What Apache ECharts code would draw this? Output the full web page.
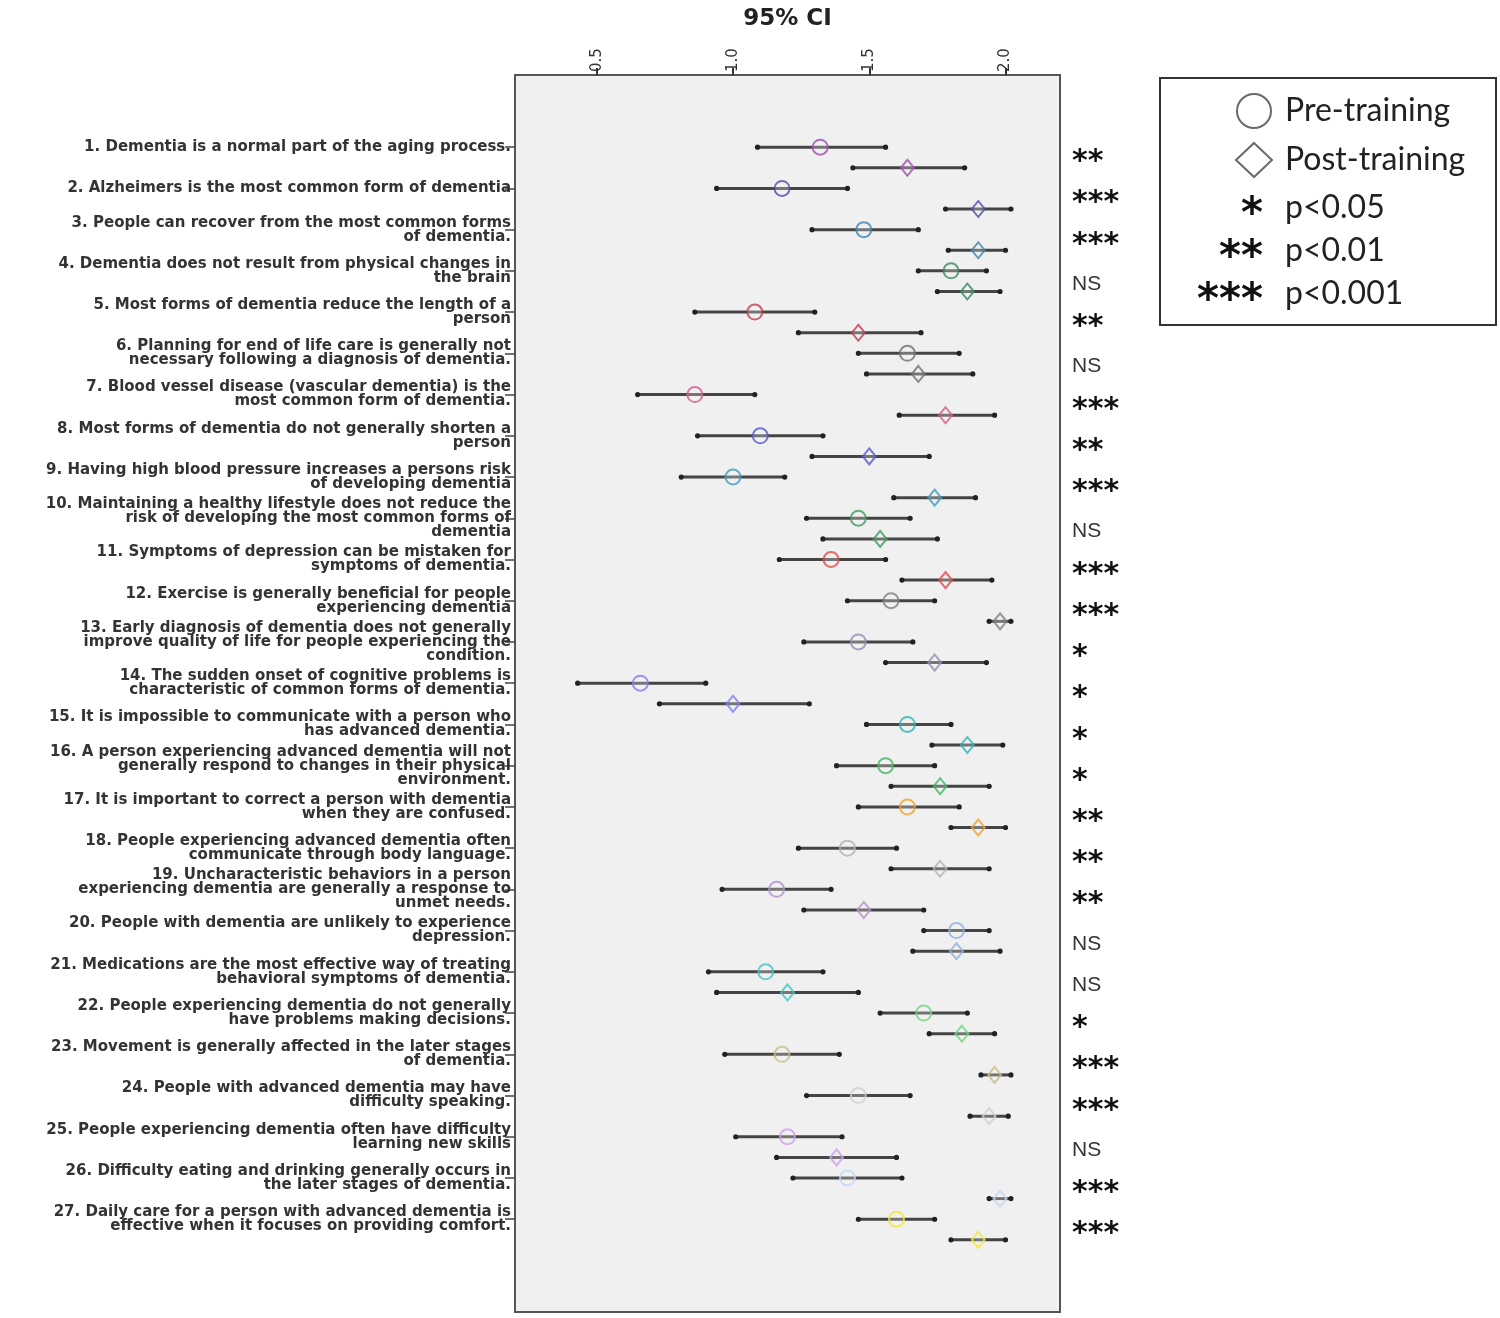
<!DOCTYPE html>
<html>
<head>
<meta charset="utf-8">
<title>95% CI</title>
<script src="https://cdn.jsdelivr.net/npm/echarts@6/dist/echarts.min.js"></script>
<style>
  html, body { margin: 0; background: #fff; }
  #chart { width: 1500px; height: 1318px; }
</style>
</head>
<body>
<div id="chart"></div>
<script>
// Knowledge items, pre/post training means with 95% CI, and significance.
const items = [
  "1. Dementia is a normal part of the aging process.",
  "2. Alzheimers is the most common form of dementia",
  "3. People can recover from the most common forms\nof dementia.",
  "4. Dementia does not result from physical changes in\nthe brain",
  "5. Most forms of dementia reduce the length of a\nperson",
  "6. Planning for end of life care is generally not\nnecessary following a diagnosis of dementia.",
  "7. Blood vessel disease (vascular dementia) is the\nmost common form of dementia.",
  "8. Most forms of dementia do not generally shorten a\nperson",
  "9. Having high blood pressure increases a persons risk\nof developing dementia",
  "10. Maintaining a healthy lifestyle does not reduce the\nrisk of developing the most common forms of\ndementia",
  "11. Symptoms of depression can be mistaken for\nsymptoms of dementia.",
  "12. Exercise is generally beneficial for people\nexperiencing dementia",
  "13. Early diagnosis of dementia does not generally\nimprove quality of life for people experiencing the\ncondition.",
  "14. The sudden onset of cognitive problems is\ncharacteristic of common forms of dementia.",
  "15. It is impossible to communicate with a person who\nhas advanced dementia.",
  "16. A person experiencing advanced dementia will not\ngenerally respond to changes in their physical\nenvironment.",
  "17. It is important to correct a person with dementia\nwhen they are confused.",
  "18. People experiencing advanced dementia often\ncommunicate through body language.",
  "19. Uncharacteristic behaviors in a person\nexperiencing dementia are generally a response to\nunmet needs.",
  "20. People with dementia are unlikely to experience\ndepression.",
  "21. Medications are the most effective way of treating\nbehavioral symptoms of dementia.",
  "22. People experiencing dementia do not generally\nhave problems making decisions.",
  "23. Movement is generally affected in the later stages\nof dementia.",
  "24. People with advanced dementia may have\ndifficulty speaking.",
  "25. People experiencing dementia often have difficulty\nlearning new skills",
  "26. Difficulty eating and drinking generally occurs in\nthe later stages of dementia.",
  "27. Daily care for a person with advanced dementia is\neffective when it focuses on providing comfort.",
]

const preMean  = [1.32, 1.18, 1.48, 1.80, 1.08, 1.64, 0.86, 1.10, 1.00, 1.46, 1.36, 1.58, 1.46, 0.66, 1.64, 1.56, 1.64, 1.42, 1.16, 1.82, 1.12, 1.70, 1.18, 1.46, 1.20, 1.42, 1.60]
const preLow   = [1.09, 0.94, 1.29, 1.68, 0.86, 1.46, 0.65, 0.87, 0.81, 1.27, 1.17, 1.42, 1.26, 0.43, 1.49, 1.38, 1.46, 1.24, 0.96, 1.70, 0.91, 1.54, 0.97, 1.27, 1.01, 1.22, 1.46]
const preHigh  = [1.56, 1.42, 1.68, 1.93, 1.30, 1.83, 1.08, 1.33, 1.19, 1.65, 1.56, 1.74, 1.66, 0.90, 1.80, 1.74, 1.83, 1.60, 1.36, 1.94, 1.33, 1.86, 1.39, 1.65, 1.40, 1.62, 1.74]
const postMean = [1.64, 1.90, 1.90, 1.86, 1.46, 1.68, 1.78, 1.50, 1.74, 1.54, 1.78, 1.98, 1.74, 1.00, 1.86, 1.76, 1.90, 1.76, 1.48, 1.82, 1.20, 1.84, 1.96, 1.94, 1.38, 1.98, 1.90]
const postLow  = [1.44, 1.78, 1.79, 1.75, 1.24, 1.49, 1.61, 1.29, 1.59, 1.33, 1.62, 1.94, 1.56, 0.73, 1.73, 1.58, 1.80, 1.58, 1.26, 1.66, 0.94, 1.72, 1.91, 1.87, 1.16, 1.94, 1.80]
const postHigh = [1.85, 2.02, 2.00, 1.98, 1.69, 1.88, 1.96, 1.72, 1.89, 1.75, 1.95, 2.02, 1.93, 1.28, 1.99, 1.94, 2.00, 1.94, 1.70, 1.98, 1.46, 1.96, 2.02, 2.01, 1.60, 2.02, 2.00]

const significance = ["**", "***", "***", "NS", "**", "NS", "***", "**", "***", "NS", "***", "***", "*", "*",
  "*", "*", "**", "**", "**", "NS", "NS", "*", "***", "***", "NS", "***", "***"]

const sigKey = [["*", "p<0.05"], ["**", "p<0.01"], ["***", "p<0.001"]]

const xTicks = [0.5, 1.0, 1.5, 2.0]
const X_MIN = 0.2
const X_MAX = 2.2

const itemColors = ["#a04fb0", "#4e4fa8", "#3f86b0", "#3a8a5a", "#c23b4f", "#6f6f6f", "#d45b8e", "#5a5ac8",
  "#3f9cc0", "#3f9c5e", "#e24a4a", "#7f7f7f", "#8f8fb5", "#7d7df5", "#2fb3b3", "#3db85f", "#f0a02c",
  "#b3b3b3", "#b391cc", "#8fb0e0", "#3fc4c4", "#6fd57f", "#c7bd8a", "#cfcfcf", "#cf9fec", "#c3d7f3", "#efe83a"]

// One category slot per plotted row (pre, post), with empty slots above and below.
const PAD = 3
const rows = []
for (let p = 0; p < PAD; p++) rows.push("top" + p)
items.forEach((_, i) => rows.push("pre" + i, "post" + i))
for (let p = 0; p < PAD; p++) rows.push("bottom" + p)

const isPre = key => key.startsWith("pre")
const LABEL_FONT = "'DejaVu Sans', sans-serif"

function renderCI(params, api) {
  const a = api.coord([api.value(0), api.value(2)])
  const b = api.coord([api.value(1), api.value(2)])
  const cap = p => ({type: "circle", shape: {cx: p[0], cy: p[1], r: 2.6}, style: {fill: "#222"}})
  return {
    type: "group",
    children: [
      {type: "line", shape: {x1: a[0], y1: a[1], x2: b[0], y2: b[1]}, style: {stroke: "#444", lineWidth: 3}},
      cap(a), cap(b),
    ],
  }
}

function renderSig(params, api) {
  const p = api.coord([api.value(0), api.value(1)])
  const half = api.size([0, 1])[1] / 2
  const text = significance[params.dataIndex]
  const stars = text !== "NS"
  return {
    type: "text",
    x: p[0] + 12,
    y: p[1] + half + (stars ? 5 : 3),
    style: {
      text,
      fill: stars ? "#111" : "#333",
      font: stars ? "bold 30px 'DejaVu Sans'" : "21px 'Liberation Sans'",
      verticalAlign: "middle",
    },
  }
}

const ciData = []
items.forEach((_, i) => {
  ciData.push([preLow[i], preHigh[i], "pre" + i])
  ciData.push([postLow[i], postHigh[i], "post" + i])
})

const markerFill = "rgba(245, 245, 245, 0.35)"

const option = {
  animation: false,
  backgroundColor: "#fff",
  grid: {
    left: 515, top: 75, right: 440, bottom: 6,
    outerBoundsMode: "none",
    show: true, backgroundColor: "#f0f0f0", borderColor: "#555", borderWidth: 2,
  },
  xAxis: {
    type: "value",
    position: "top",
    min: X_MIN,
    max: X_MAX,
    name: "95% CI",
    nameLocation: "middle",
    nameGap: 44,
    nameTextStyle: {fontFamily: LABEL_FONT, fontWeight: "bold", fontSize: 23, color: "#222"},
    axisLine: {show: true, lineStyle: {color: "#555", width: 2}},
    axisTick: {show: true, length: 7, customValues: xTicks, lineStyle: {color: "#333", width: 2}},
    axisLabel: {
      customValues: xTicks,
      rotate: -90,
      margin: 3,
      fontFamily: LABEL_FONT,
      fontSize: 15,
      color: "#333",
      formatter: v => v.toFixed(1),
    },
    splitLine: {show: false},
  },
  yAxis: {
    type: "category",
    inverse: true,
    data: rows,
    axisLine: {show: true, lineStyle: {color: "#555", width: 2}},
    axisTick: {
      show: true, alignWithLabel: true, length: 10,
      interval: (idx, key) => isPre(key),
      lineStyle: {color: "#444", width: 1.5},
    },
    axisLabel: {
      interval: (idx, key) => isPre(key),
      formatter: key => (isPre(key) ? items[+key.slice(3)] : ""),
      fontFamily: LABEL_FONT,
      fontWeight: "bold",
      fontSize: 15,
      lineHeight: 14,
      color: "#333",
      margin: 4,
      align: "right",
    },
    splitLine: {show: false},
  },
  legend: {
    data: [{name: "Pre-training", icon: "circle"}, {name: "Post-training", icon: "diamond"}],
    orient: "vertical",
    left: 1230,
    top: 88,
    itemWidth: 36,
    itemHeight: 34,
    itemGap: 13,
    selectedMode: false,
    itemStyle: {color: "transparent", borderColor: "#444", borderWidth: 2},
    textStyle: {fontFamily: "Lato", fontSize: 32, color: "#222", padding: [0, 0, 0, 8]},
  },
  graphic: [
    {
      type: "rect", x: 1160, y: 78, z: 0,
      shape: {width: 336, height: 247},
      style: {fill: "#fff", stroke: "#333", lineWidth: 2},
    },
    ...sigKey.map(([stars, label], k) => ({
      type: "group", x: 0, y: 0,
      children: [
        {type: "text", x: 1263, y: 216 + k * 43, style: {text: stars, font: "bold 42px 'DejaVu Sans'", fill: "#111", align: "right", verticalAlign: "middle"}},
        {type: "text", x: 1285, y: 208 + k * 43, style: {text: label, font: "32px Lato", fill: "#222", verticalAlign: "middle"}},
      ],
    })),
  ],
  series: [
    {
      name: "CI",
      type: "custom",
      renderItem: renderCI,
      encode: {x: [0, 1], y: 2},
      data: ciData,
      z: 2,
    },
    {
      name: "Pre-training",
      type: "scatter",
      symbol: "circle",
      symbolSize: 15,
      z: 3,
      data: preMean.map((m, i) => ({
        value: [m, "pre" + i],
        itemStyle: {color: markerFill, borderColor: itemColors[i], borderWidth: 2},
      })),
    },
    {
      name: "Post-training",
      type: "scatter",
      symbol: "diamond",
      symbolSize: [13, 16],
      z: 3,
      data: postMean.map((m, i) => ({
        value: [m, "post" + i],
        itemStyle: {color: markerFill, borderColor: itemColors[i], borderWidth: 2},
      })),
    },
    {
      name: "Significance",
      type: "custom",
      renderItem: renderSig,
      clip: false,
      encode: {x: 0, y: 1},
      data: items.map((_, i) => [X_MAX, "pre" + i]),
      z: 4,
    },
  ],
}

const chart = echarts.init(document.getElementById("chart"), null, {renderer: "canvas"})
chart.setOption(option)
</script>
</body>
</html>
